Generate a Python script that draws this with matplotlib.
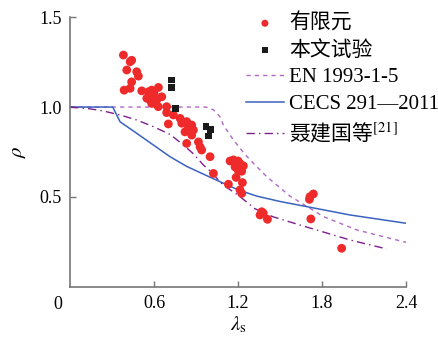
import matplotlib
matplotlib.use('Agg')
import matplotlib.pyplot as plt

plt.rcParams['font.family'] = ['Liberation Serif', 'Noto Sans CJK SC']
plt.rcParams['mathtext.fontset'] = 'stix'

# 有限元结果 (lambda_s, rho)
fem_lam = [0.381, 0.429, 0.44, 0.405, 0.476, 0.488, 0.44, 0.386, 0.429, 0.512,
           0.56, 0.583, 0.548, 0.571, 0.595, 0.583, 0.619, 0.566, 0.60, 0.631,
           0.655, 0.63, 0.69, 0.69, 0.702, 0.738, 0.786, 0.798, 0.833, 0.845,
           0.869, 0.881, 0.821, 0.869, 0.833, 0.917, 0.929, 0.94, 1.0, 1.024,
           1.143, 1.167, 1.20, 1.214, 1.238, 1.226, 1.179, 1.20, 1.186, 1.131,
           1.231, 1.214, 1.226, 1.369, 1.38, 1.357, 1.41, 1.714, 1.738, 1.71,
           1.72, 1.94]
fem_rho = [1.289, 1.252, 1.26, 1.206, 1.196, 1.172, 1.14, 1.094, 1.104, 1.09,
           1.085, 1.094, 1.049, 1.039, 1.057, 1.02, 1.039, 1.067, 1.075, 1.109,
           1.057, 1.002, 1.002, 0.969, 0.906, 0.956, 0.937, 0.91, 0.919, 0.891,
           0.90, 0.872, 0.862, 0.844, 0.798, 0.806, 0.778, 0.761, 0.724, 0.631,
           0.70, 0.706, 0.70, 0.686, 0.673, 0.643, 0.667, 0.65, 0.609, 0.571,
           0.58, 0.539, 0.52, 0.418, 0.41, 0.40, 0.376, 0.502, 0.517, 0.487,
           0.378, 0.215]

# 本文试验
test_lam = [0.726, 0.726, 0.755, 0.971, 1.005, 0.988]
test_rho = [1.15, 1.109, 0.993, 0.891, 0.876, 0.839]

# EN 1993-1-5
en_lam = [0.0, 0.97, 1.024, 1.071, 1.095, 1.167, 1.238, 1.286, 1.405, 1.571,
          1.81, 2.048, 2.4]
en_rho = [1.0, 1.0, 0.985, 0.946, 0.90, 0.817, 0.748, 0.706, 0.613, 0.505,
          0.391, 0.317, 0.248]

# CECS 291—2011
cecs_lam = [0.0, 0.305, 0.357, 0.476, 0.595, 0.714, 0.833, 1.0, 1.1, 1.2,
            1.333, 1.5, 1.714, 2.0, 2.4]
cecs_rho = [1.0, 1.0, 0.918, 0.854, 0.789, 0.724, 0.67, 0.61, 0.575, 0.54,
            0.505, 0.475, 0.443, 0.40, 0.354]

# 聂建国等
nie_lam = [0.0, 0.143, 0.238, 0.357, 0.476, 0.595, 0.714, 0.81, 0.881, 0.952,
           1.0, 1.095, 1.164, 1.214, 1.32, 1.45, 1.643, 2.0, 2.262]
nie_rho = [1.0, 0.99, 0.978, 0.956, 0.928, 0.891, 0.848, 0.789, 0.74, 0.678,
           0.645, 0.565, 0.53, 0.502, 0.435, 0.39, 0.344, 0.261, 0.211]

fig = plt.figure(figsize=(4.38, 3.42), dpi=100)
ax = fig.add_axes([0.160, 0.161, 0.767, 0.789])

ax.scatter(fem_lam, fem_rho, s=40, color='#ee2a2a', edgecolors='none',
           label='有限元', zorder=3)
ax.scatter(test_lam, test_rho, s=24, marker='s', color='#1a1a1a',
           edgecolors='none', label='本文试验', zorder=4)
ax.plot(en_lam, en_rho, color='#b068c4', lw=1.0, dashes=(3, 3),
        label='EN 1993-1-5')
ax.plot(cecs_lam, cecs_rho, color='#3a62c0', lw=1.1, label='CECS 291—2011')
ax.plot(nie_lam, nie_rho, color='#7d1f8e', lw=1.0, dashes=(6, 3, 1, 3),
        label='聂建国等$^{[21]}$')

ax.set_xlim(0, 2.4)
ax.set_ylim(0, 1.5)
ax.set_xticks([0.6, 1.2, 1.8, 2.4])
ax.set_xticklabels(['0.6', '1.2', '1.8', '2.4'])
ax.set_yticks([0.5, 1.0, 1.5])
ax.set_yticklabels(['0.5', '1.0', '1.5'])
ax.tick_params(direction='in', length=4, width=1, color='#777777',
               labelsize=13, pad=6)
for side in ['top', 'right']:
    ax.spines[side].set_visible(False)
for side in ['left', 'bottom']:
    ax.spines[side].set_color('#777777')
    ax.spines[side].set_linewidth(1.2)

ax.annotate('0', xy=(0, 0), xycoords='axes fraction', xytext=(-9, -13),
            textcoords='offset points', ha='center', va='center', fontsize=13)
ax.set_xlabel(r'$\lambda_{\rm s}$', fontsize=15, labelpad=2)
ax.set_ylabel(r'$\rho$', fontsize=15, labelpad=8)

leg = ax.legend(loc='upper left', bbox_to_anchor=(0.562, 0.960),
                bbox_transform=fig.transFigure, frameon=False, fontsize=15,
                borderpad=0, borderaxespad=0, handlelength=1.8,
                handletextpad=0.25, labelspacing=0.34, markerscale=0.8)
leg.get_texts()[4].set_fontfamily('Noto Sans CJK SC')

fig.savefig('out.png', dpi=100)
